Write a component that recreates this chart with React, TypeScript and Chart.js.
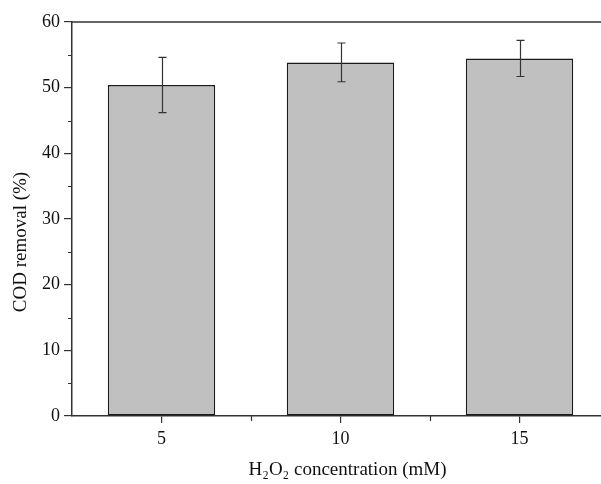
import { useEffect, useRef } from 'react';
import { Chart, registerables } from 'chart.js';
Chart.register(...registerables);

const categories = ['5', '10', '15'];
const codRemoval = [50.4, 53.85, 54.45];
const codError = [4.2, 2.95, 2.75];
const yMin = 0;
const yMax = 60;
const yStep = 10;
const xTitle = 'H₂O₂ concentration (mM)';
const yTitle = 'COD removal (%)';

const FONT = "'Liberation Serif', 'Times New Roman', serif";

const framePlugin = {
  id: 'frameAndExtras',
  afterDatasetsDraw(chart: any) {
    const { ctx, chartArea, scales } = chart;
    const x = scales.x;
    const y = scales.y;
    ctx.save();
    // error bars
    const meta = chart.getDatasetMeta(0);
    ctx.strokeStyle = '#333333';
    ctx.lineWidth = 1.2;
    meta.data.forEach((bar: any, i: number) => {
      const cx = Math.round(bar.x) + 0.5;
      const top = y.getPixelForValue(codRemoval[i] + codError[i]);
      const bot = y.getPixelForValue(codRemoval[i] - codError[i]);
      ctx.beginPath();
      ctx.moveTo(cx, top);
      ctx.lineTo(cx, bot);
      ctx.moveTo(cx - 4, top);
      ctx.lineTo(cx + 4, top);
      ctx.moveTo(cx - 4, bot);
      ctx.lineTo(cx + 4, bot);
      ctx.stroke();
    });
    // frame top
    ctx.strokeStyle = '#333333';
    ctx.lineWidth = 1.5;
    ctx.beginPath();
    ctx.moveTo(chartArea.left, chartArea.top);
    ctx.lineTo(chartArea.right, chartArea.top);
    ctx.stroke();
    // minor ticks y
    ctx.lineWidth = 1.2;
    ctx.beginPath();
    for (let v = yMin + yStep / 2; v < yMax; v += yStep) {
      const py = Math.round(y.getPixelForValue(v)) + 0.5;
      ctx.moveTo(chartArea.left, py);
      ctx.lineTo(chartArea.left - 4, py);
    }
    // minor ticks x (between categories)
    for (let i = 0; i < categories.length - 1; i++) {
      const px = Math.round((x.getPixelForValue(i) + x.getPixelForValue(i + 1)) / 2) + 0.5;
      ctx.moveTo(px, chartArea.bottom);
      ctx.lineTo(px, chartArea.bottom + 5);
    }
    ctx.stroke();
    // axis titles
    ctx.fillStyle = '#111111';
    ctx.font = `19px ${FONT}`;
    ctx.textAlign = 'center';
    ctx.textBaseline = 'middle';
    ctx.fillText(xTitle, (chartArea.left + chartArea.right) / 2 + 7, chartArea.bottom + 54);
    ctx.save();
    ctx.translate(chartArea.left - 51, (chartArea.top + chartArea.bottom) / 2 + 23);
    ctx.rotate(-Math.PI / 2);
    ctx.fillText(yTitle, 0, 0);
    ctx.restore();
    ctx.restore();
  },
};

export default function App() {
  const ref = useRef<HTMLCanvasElement>(null);
  useEffect(() => {
    document.body.style.margin = '0';
    const chart = new Chart(ref.current!, {
      type: 'bar',
      data: {
        labels: categories,
        datasets: [
          {
            data: codRemoval,
            backgroundColor: '#c0c0c0',
            borderColor: '#1a1a1a',
            borderWidth: 1.5,
            borderSkipped: false,
            barPercentage: 0.6,
            categoryPercentage: 1,
          },
        ],
      },
      options: {
        animation: false,
        responsive: false,
        layout: { padding: { top: 22, left: 0, right: 12, bottom: 0 } },
        plugins: { legend: { display: false }, tooltip: { enabled: false } },
        scales: {
          x: {
            offset: true,
            grid: { display: true, drawOnChartArea: false, offset: false, tickLength: 7, color: '#333333', lineWidth: 1.2 },
            border: { display: true, color: '#333333', width: 1.5 },
            ticks: { color: '#111111', font: { family: FONT, size: 18 }, padding: 5 },
            title: { display: false },
            afterFit: (s: any) => { s.height = 68; },
          },
          y: {
            min: yMin,
            max: yMax,
            ticks: { stepSize: yStep, color: '#111111', font: { family: FONT, size: 18 }, padding: 4 },
            grid: { display: true, drawOnChartArea: false, tickLength: 8, color: '#333333', lineWidth: 1.2 },
            border: { display: true, color: '#333333', width: 1.5 },
            title: { display: false },
            afterFit: (s: any) => { s.width = 72; },
          },
        },
      },
      plugins: [framePlugin],
    });
    return () => chart.destroy();
  }, []);
  return (
    <div style={{ position: 'fixed', left: 0, top: 0, width: 601, height: 484, overflow: 'hidden', background: '#fff' }}>
      <canvas ref={ref} width={621} height={484} style={{ display: 'block' }} />
    </div>
  );
}
